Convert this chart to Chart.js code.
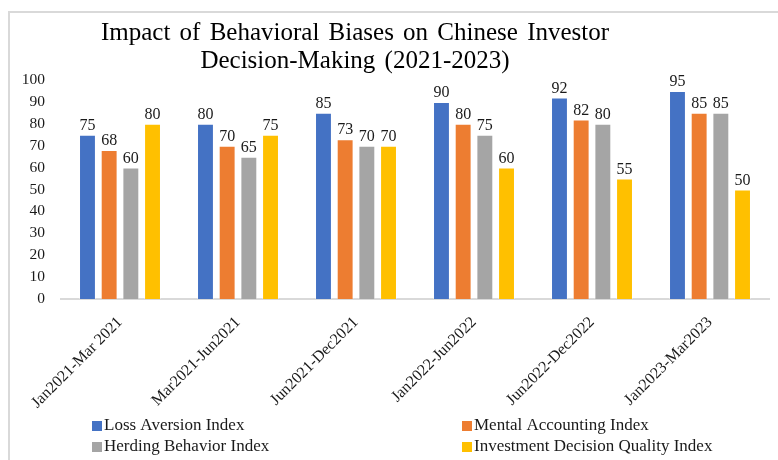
<!DOCTYPE html>
<html>
<head>
<meta charset="utf-8">
<script src="https://cdn.jsdelivr.net/npm/chart.js@4"></script>
<style>
  html, body { margin: 0; padding: 0; background: #fff; }
  #wrap { position: relative; width: 778px; height: 460px; }
</style>
</head>
<body>
<div id="wrap"><canvas id="grafiek"></canvas></div>
<script>
// data
var titleLines = ['Impact of Behavioral Biases on Chinese Investor', 'Decision-Making (2021-2023)'];
var periods = ['Jan2021-Mar 2021', 'Mar2021-Jun2021', 'Jun2021-Dec2021', 'Jan2022-Jun2022', 'Jun2022-Dec2022', 'Jan2023-Mar2023'];
var seriesNames = ['Loss Aversion Index', 'Mental Accounting Index', 'Herding Behavior Index', 'Investment Decision Quality Index'];
var lossAversion = [75, 80, 85, 90, 92, 95];
var mentalAccounting = [68, 70, 73, 80, 82, 85];
var herding = [60, 65, 70, 75, 80, 85];
var decisionQuality = [80, 75, 70, 60, 55, 50];
var colors = ['#4472C4', '#ED7D31', '#A5A5A5', '#FFC000'];

var serif = '"Liberation Serif", "Times New Roman", serif';
Chart.defaults.font.family = serif;
Chart.defaults.color = '#1a1a1a';

// rand, titel, waardelabels en legenda
var extras = {
  id: 'extras',
  beforeDraw: function(chart) {
    var ctx = chart.ctx;
    ctx.save();
    ctx.strokeStyle = '#d9d9d9';
    ctx.lineWidth = 2;
    ctx.beginPath();
    ctx.moveTo(9, 460);
    ctx.lineTo(9, 12);
    ctx.lineTo(778, 12);
    ctx.stroke();
    ctx.restore();
  },
  afterDatasetsDraw: function(chart) {
    var ctx = chart.ctx;
    ctx.save();
    // titel
    ctx.fillStyle = '#000';
    ctx.font = '25px ' + serif;
    ctx.textAlign = 'center';
    ctx.textBaseline = 'middle';
    if ('wordSpacing' in ctx) ctx.wordSpacing = '3px';
    ctx.fillText(titleLines[0], 355, 33);
    ctx.fillText(titleLines[1], 355, 61);
    if ('wordSpacing' in ctx) ctx.wordSpacing = '0px';

    // waarden boven de staven
    ctx.font = '16px ' + serif;
    ctx.textBaseline = 'bottom';
    ctx.fillStyle = '#1a1a1a';
    chart.data.datasets.forEach(function(ds, i) {
      chart.getDatasetMeta(i).data.forEach(function(bar, j) {
        ctx.fillText(ds.data[j], bar.x, bar.y - 1);
      });
    });

    // legenda in twee kolommen
    ctx.font = '17px ' + serif;
    ctx.textAlign = 'left';
    ctx.textBaseline = 'middle';
    var cols = [92, 462];
    var rows = [426, 447];
    chart.data.datasets.forEach(function(ds, i) {
      var x = cols[i % 2];
      var y = rows[Math.floor(i / 2)];
      ctx.fillStyle = ds.backgroundColor;
      ctx.fillRect(x, y - 5, 10, 10);
      ctx.fillStyle = '#1a1a1a';
      ctx.fillText(ds.label, x + 12, y);
    });
    ctx.restore();
  }
};

function biasChart() {
  var ctx = document.getElementById('grafiek');
  var values = [lossAversion, mentalAccounting, herding, decisionQuality];
  new Chart(ctx, {
    type: 'bar',
    data: {
      labels: periods,
      datasets: values.map(function(v, i) {
        return {
          label: seriesNames[i],
          data: v,
          backgroundColor: colors[i],
          borderColor: 'rgba(255,255,255,0.35)',
          borderWidth: 1,
          categoryPercentage: 0.735,
          barPercentage: 0.78
        };
      })
    },
    options: {
      responsive: false,
      animation: false,
      layout: { padding: { top: 80, left: 0, right: 9, bottom: 51 } },
      plugins: {
        legend: { display: false },
        title: { display: false },
        tooltip: { enabled: false }
      },
      scales: {
        x: {
          grid: { display: false },
          border: { display: true, color: '#d9d9d9', width: 2 },
          ticks: {
            minRotation: 45,
            maxRotation: 45,
            padding: 6,
            autoSkip: false,
            font: { size: 16 },
            color: '#1a1a1a'
          },
          afterFit: function(scale) { scale.height = 110; }
        },
        y: {
          min: 0,
          max: 100,
          grid: { display: false },
          border: { display: false },
          ticks: {
            stepSize: 10,
            padding: 8,
            autoSkip: false,
            font: { size: 15.5 },
            color: '#1a1a1a'
          },
          afterFit: function(scale) { scale.width = 61; }
        }
      }
    },
    plugins: [extras]
  });
}

window.onload = function() {
  var c = document.getElementById('grafiek');
  c.width = 778;
  c.height = 460;
  biasChart();
};
</script>
</body>
</html>
